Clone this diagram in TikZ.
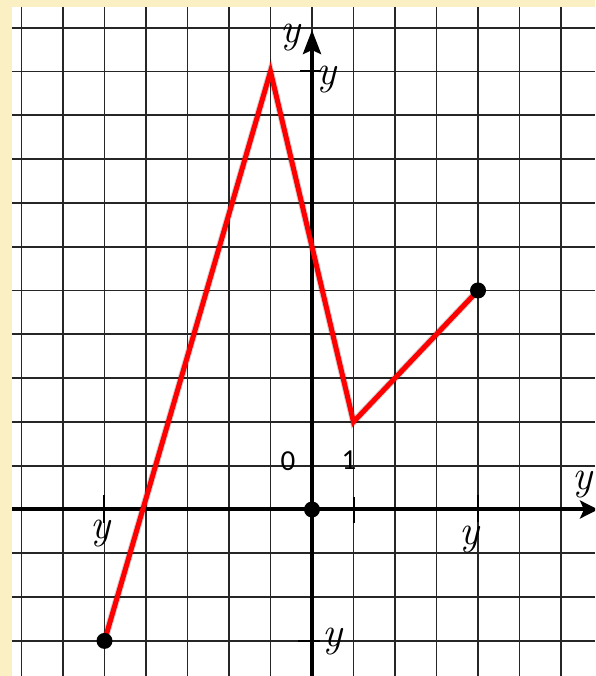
\documentclass[tikz,border=0pt]{standalone}
\usepackage{fontspec}
\newfontfamily\labelfont{Carlito}
\usetikzlibrary{arrows.meta}
\definecolor{beige}{HTML}{FBEFC4}
\tikzset{
  gridline/.style={black!85, line width=1.8pt},
  axisline/.style={black, line width=4pt},
  tickline/.style={black, line width=2pt},
  graphline/.style={red, line width=5pt, line join=miter},
  shadowline/.style={black, opacity=0.18, line width=7pt},
  dotnode/.style={circle, fill=black, inner sep=0pt, minimum size=16pt},
  varlabel/.style={inner sep=0pt, font=\fontsize{42}{42}\selectfont\itshape},
  numlabel/.style={inner sep=0pt, font=\labelfont\fontsize{29}{29}\selectfont}
}
\begin{document}
\begin{tikzpicture}[x=41.5pt, y=43.8pt]
\useasboundingbox (-312pt,-166.5pt) rectangle (283pt,509.5pt);
\clip (-312pt,-166.5pt) rectangle (283pt,509.5pt);
\fill[beige] (-312pt,-166.5pt) rectangle (283pt,509.5pt);
\fill[white] (-300pt,-166.5pt) rectangle (283pt,502.5pt);
% grid
\foreach \k in {-7,...,6} \draw[gridline] (\k,-166.5pt) -- (\k,502.5pt);
\foreach \k in {-3,...,11} \draw[gridline] (-300pt,\k) -- (283pt,\k);
% axes
\coordinate (xstart) at (-300pt,0);
\coordinate (xend) at (286pt,0);
\coordinate (ystart) at (0,-166.5pt);
\coordinate (yend) at (0,479.5pt);
\draw[axisline, -{Stealth[length=18pt,width=18pt,inset=4pt]}] (xstart) -- (xend);
\draw[axisline, -{Stealth[length=24pt,width=18pt,inset=4pt]}] (ystart) -- (yend);
% ticks
\coordinate (tA1) at (-5,14.5pt); \coordinate (tA2) at (-5,-13.5pt);
\coordinate (tB1) at (1,12.5pt);  \coordinate (tB2) at (1,-13.5pt);
\coordinate (tC1) at (4,14.5pt);  \coordinate (tC2) at (4,-12.5pt);
\coordinate (tD1) at (-12pt,10);  \coordinate (tD2) at (8pt,10);
\coordinate (tE1) at (-14pt,-3);  \coordinate (tE2) at (8pt,-3);
\draw[tickline] (tA1) -- (tA2);
\draw[tickline] (tB1) -- (tB2);
\draw[tickline] (tC1) -- (tC2);
\draw[tickline] (tD1) -- (tD2);
\draw[tickline] (tE1) -- (tE2);
% graph points
\coordinate (P1) at (-5,-3);
\coordinate (P2) at (-1,10);
\coordinate (P3) at (1,2);
\coordinate (P4) at (4,5);
\begin{scope}[shift={(3pt,-3pt)}]
\draw[shadowline] (P1) -- (P2) -- (P3) -- (P4);
\end{scope}
\draw[graphline] (P1) -- (P2) -- (P3) -- (P4);
\node[dotnode] (d1) at (P1) {};
\node[dotnode] (d0) at (0,0) {};
\node[dotnode] (d4) at (P4) {};
% labels
\node[varlabel] (ly) at (-22pt,471.5pt) {y};
\node[varlabel] (ly10) at (14pt,429.5pt) {y};
\node[varlabel] (lx) at (270pt,25pt) {y};
\node[varlabel] (lxm5) at (-212pt,-24.5pt) {y};
\node[varlabel] (lx4) at (157pt,-30.5pt) {y};
\node[varlabel] (lym3) at (20pt,-132.5pt) {y};
\node[numlabel] (l0) at (-24pt,48.5pt) {0};
\node[numlabel] (l1) at (37pt,49.5pt) {1};
\end{tikzpicture}
\end{document}
